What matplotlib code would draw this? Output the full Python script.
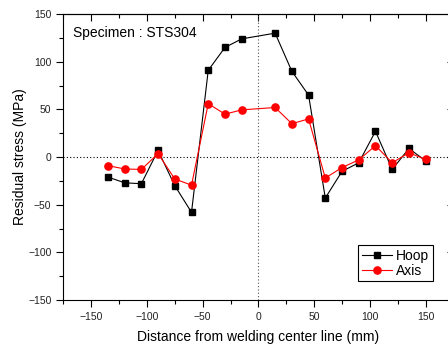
import matplotlib
matplotlib.use("Agg")
import matplotlib.pyplot as plt
from matplotlib.ticker import MultipleLocator

plt.rcParams['font.family'] = ['Liberation Sans', 'DejaVu Sans']

# Data
distance = [-135, -120, -105, -90, -75, -60, -45, -30, -15, 15, 30, 45, 60, 75, 90, 105, 120, 135, 150]
hoop = [-21, -27, -28, 7, -30, -58, 91, 115, 124, 130, 90, 65, -43, -15, -6, 27, -13, 9, -4]
axis_ = [-9, -12.5, -13, 3.5, -23, -29.5, 56, 45, 49.5, 52, 35, 40, -22, -11, -3, 12, -6, 4.5, -2.5]

fig = plt.figure(figsize=(4.48, 3.47), dpi=100)
ax = fig.add_axes([0.1413, 0.1354, 0.871, 0.824])

# reference lines through zero
ax.axhline(0, color='black', lw=0.8, ls=(0, (1, 2)), zorder=1)
ax.axvline(0, color='#555555', lw=0.8, ls=(0, (1, 2)), zorder=1)

ax.plot(distance, hoop, color='black', marker='s', ms=4.5, lw=0.8, label='Hoop', zorder=3)
ax.plot(distance, axis_, color='red', marker='o', ms=5.2, lw=0.8, label='Axis', zorder=3)

ax.set_xlim(-175, 175)
ax.set_ylim(-150, 150)
ax.xaxis.set_major_locator(MultipleLocator(50))
ax.xaxis.set_minor_locator(MultipleLocator(25))
ax.yaxis.set_major_locator(MultipleLocator(50))
ax.yaxis.set_minor_locator(MultipleLocator(25))

ax.tick_params(which='both', labelsize=7.5, width=0.8, labelcolor='#222222')
ax.tick_params(which='major', length=5)
ax.tick_params(which='minor', length=3)
ax.tick_params(axis='x', which='both', direction='out', top=False)
ax.tick_params(axis='y', which='both', direction='out', right=False)

# inward ticks on the top and right edges
axt = ax.secondary_xaxis('top')
axt.xaxis.set_major_locator(MultipleLocator(50))
axt.xaxis.set_minor_locator(MultipleLocator(25))
axt.tick_params(which='both', direction='in', labeltop=False, width=0.8)
axt.tick_params(which='major', length=5)
axt.tick_params(which='minor', length=3)
axr = ax.secondary_yaxis('right')
axr.yaxis.set_major_locator(MultipleLocator(50))
axr.yaxis.set_minor_locator(MultipleLocator(25))
axr.tick_params(which='both', direction='in', labelright=False, width=0.8)
axr.tick_params(which='major', length=5)
axr.tick_params(which='minor', length=3)

for sp in ax.spines.values():
    sp.set_linewidth(0.8)

ax.set_xlabel('Distance from welding center line (mm)', fontsize=10, labelpad=6)
ax.set_ylabel('Residual stress (MPa)', fontsize=10, labelpad=1)

ax.text(0.024, 0.935, 'Specimen : STS304', transform=ax.transAxes, fontsize=10,
        va='center', ha='left')

leg = ax.legend(loc='lower right', bbox_to_anchor=(0.947, 0.065), fontsize=10,
                fancybox=False, edgecolor='black', framealpha=1,
                handlelength=2.2, handletextpad=0.3, borderpad=0.25,
                labelspacing=0.1, borderaxespad=0)
leg.get_frame().set_linewidth(0.8)

fig.savefig('out.png', dpi=100)
